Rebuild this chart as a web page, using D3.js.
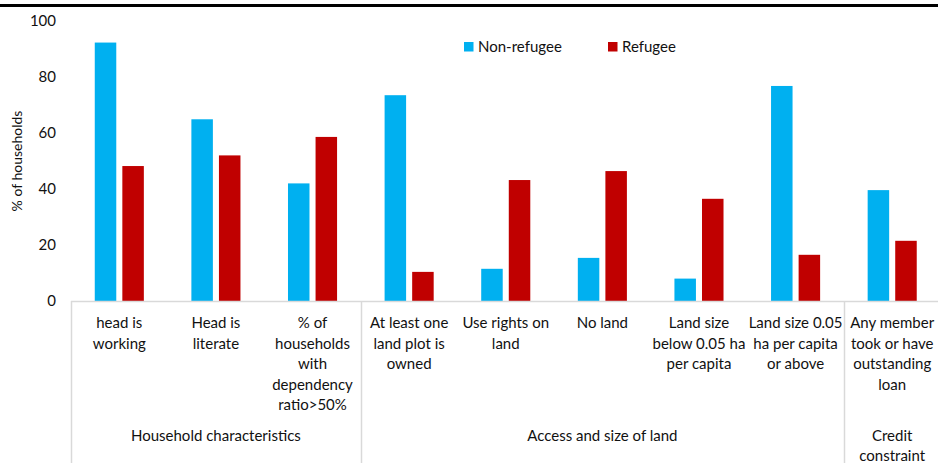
<!DOCTYPE html>
<html>
<head>
<meta charset="utf-8">
<script src="https://cdn.jsdelivr.net/npm/d3@7"></script>
<style>
  html, body { margin: 0; padding: 0; background: #fff; }
  svg { display: block; }
  text { font-family: Lato, "Open Sans", sans-serif; fill: #111; }
</style>
</head>
<body>
<svg id="chart" width="938" height="463"></svg>
<script>
// ---- data ----
const categories = [
  "head is\nworking",
  "Head is\nliterate",
  "% of\nhouseholds\nwith\ndependency\nratio>50%",
  "At least one\nland plot is\nowned",
  "Use rights on\nland",
  "No land",
  "Land size\nbelow 0.05 ha\nper capita",
  "Land size 0.05\nha per capita\nor above",
  "Any member\ntook or have\noutstanding\nloan"
];
const groups = ["Household characteristics", "Access and size of land", "Credit\nconstraint"];
const groupSizes = [3, 5, 1];
const seriesNames = ["Non-refugee", "Refugee"];
const nonRefugee = [92.3, 64.9, 42.0, 73.5, 11.5, 15.4, 8.0, 76.8, 39.6];
const refugee    = [48.2, 52.0, 58.6, 10.4, 43.2, 46.4, 36.5, 16.5, 21.5];
const yTicks = [0, 20, 40, 60, 80, 100];
const yLabel = "% of households";
const colors = ["#00B0F0", "#C00000"];

// ---- layout ----
const svg = d3.select("#chart");
const plotLeft = 71, plotRight = 940.5, plotTop = 21, plotBottom = 301;

const y = d3.scaleLinear().domain([0, 100]).range([plotBottom, plotTop]);
const x0 = d3.scaleBand().domain(d3.range(categories.length))
  .range([plotLeft, plotRight]).paddingInner(0.492).paddingOuter(0.246);
const x1 = d3.scaleBand().domain([0, 1]).range([0, x0.bandwidth()]).paddingInner(0.22);

// top rule
svg.append("line").attr("x1", 0).attr("x2", 938).attr("y1", 5.5).attr("y2", 5.5)
  .attr("stroke", "#000").attr("stroke-width", 3);

// y axis (labels only)
const yAxis = d3.axisLeft(y).tickValues(yTicks).tickSize(0).tickPadding(0);
const gy = svg.append("g").attr("transform", `translate(56,0)`).call(yAxis);
gy.select(".domain").remove();
gy.selectAll("text").attr("font-size", 15).attr("fill", "#111")
  .style("font-family", "Lato, 'Open Sans', sans-serif");

svg.append("text").attr("transform", `translate(22,161) rotate(-90)`)
  .attr("text-anchor", "middle").attr("font-size", 14).text(yLabel);

// bars
const data = categories.map((c, i) => ({ i, vals: [nonRefugee[i], refugee[i]] }));
const cg = svg.append("g").selectAll("g").data(data).join("g")
  .attr("transform", d => `translate(${x0(d.i)},0)`);
cg.selectAll("rect").data(d => d.vals.map((v, k) => ({ v, k }))).join("rect")
  .attr("x", d => x1(d.k)).attr("width", x1.bandwidth())
  .attr("y", d => y(d.v)).attr("height", d => y(0) - y(d.v))
  .attr("fill", d => colors[d.k]);

// category axis lines
const axisColor = "#d9d9d9";
svg.append("line").attr("x1", plotLeft).attr("x2", 938).attr("y1", plotBottom + 0.5).attr("y2", plotBottom + 0.5)
  .attr("stroke", axisColor).attr("stroke-width", 1.5);
const step = x0.step();
let cum = 0;
const bounds = [0];
groupSizes.forEach(s => { cum += s; bounds.push(cum); });
bounds.slice(0, 3).forEach(b => {
  const xx = Math.round(plotLeft + b * step) + 0.5;
  svg.append("line").attr("x1", xx).attr("x2", xx).attr("y1", plotBottom).attr("y2", 463)
    .attr("stroke", axisColor).attr("stroke-width", 1.5);
});

// category labels
const lineH = 20.5;
categories.forEach((c, i) => {
  const cx = x0(i) + x0.bandwidth() / 2;
  const t = svg.append("text").attr("text-anchor", "middle").attr("font-size", 15);
  c.split("\n").forEach((ln, j) => {
    t.append("tspan").attr("x", cx).attr("y", 328 + j * lineH).text(ln);
  });
});

// group labels
groups.forEach((g, gi) => {
  const cx = plotLeft + (bounds[gi] + bounds[gi + 1]) / 2 * step;
  const t = svg.append("text").attr("text-anchor", "middle").attr("font-size", 15);
  g.split("\n").forEach((ln, j) => {
    t.append("tspan").attr("x", cx).attr("y", 440.5 + j * lineH).text(ln);
  });
});

// legend
const legendX = [464, 608];
seriesNames.forEach((s, k) => {
  svg.append("rect").attr("x", legendX[k]).attr("y", 42).attr("width", 9.5).attr("height", 9.5)
    .attr("fill", colors[k]);
  svg.append("text").attr("x", legendX[k] + 14).attr("y", 52).attr("font-size", 15).text(s);
});
</script>
</body>
</html>
